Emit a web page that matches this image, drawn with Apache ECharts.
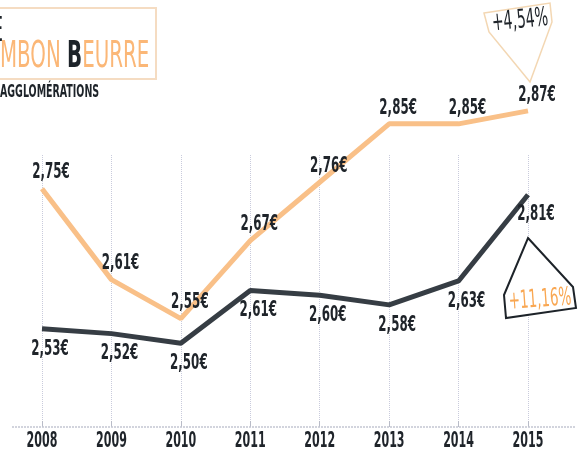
<!DOCTYPE html>
<html>
<head>
<meta charset="utf-8">
<script src="https://cdn.jsdelivr.net/npm/echarts@6/dist/echarts.min.js"></script>
<style>
  html, body { margin: 0; padding: 0; background: #fff; }
  #chart { width: 587px; height: 453px; }
</style>
</head>
<body>
<div id="chart"></div>
<script>
// données
const years = ['2008', '2009', '2010', '2011', '2012', '2013', '2014', '2015'];
const prixOrange = [2.75, 2.61, 2.55, 2.67, 2.76, 2.85, 2.85, 2.87];
const prixNoir = [2.53, 2.52, 2.50, 2.61, 2.60, 2.58, 2.63, 2.81];
const hausseOrange = '+4,54%';
const hausseNoir = '+11,16%';

const orange = '#f9c088';
const noir = '#363d44';
const encre = '#1f242a';
const cond = "'DejaVu Sans Condensed', 'DejaVu Sans', sans-serif";

function euro(v) {
  return v.toFixed(2).replace('.', ',') + '€';
}

// étiquettes de prix, tassées horizontalement comme la police d'origine
function labelSeries(data, axis, dx, dy) {
  return {
    type: 'custom',
    yAxisIndex: axis,
    clip: false,
    silent: true,
    z: 10,
    data: data.map((v, i) => [i, v]),
    renderItem: function (params, api) {
      let pt = api.coord([api.value(0), api.value(1)]);
      return {
        type: 'text',
        x: pt[0] + dx,
        y: pt[1] + dy,
        scaleX: 0.6,
        style: {
          text: euro(api.value(1)),
          fill: encre,
          font: 'bold 22px ' + cond,
          align: 'center',
          verticalAlign: 'middle'
        }
      };
    }
  };
}

let chart = echarts.init(document.getElementById('chart'));
let option = {
  backgroundColor: '#fff',
  animation: false,
  grid: { left: 42, right: 59, top: 155, bottom: 26 },
  xAxis: {
    type: 'category',
    boundaryGap: false,
    data: years,
    axisLine: { show: false },
    axisTick: { show: true, inside: true, length: 6, lineStyle: { color: '#b9bcc8' } },
    splitLine: { show: true, lineStyle: { color: '#c9cbdc', type: 'dotted', width: 1 } },
    axisLabel: { show: false }
  },
  // deux échelles cachées, comme sur l'original
  yAxis: [
    { type: 'value', show: false, min: 2.383, max: 2.802, splitLine: { show: false } },
    { type: 'value', show: false, min: 2.325, max: 2.893, splitLine: { show: false } }
  ],
  series: [
    {
      type: 'line',
      yAxisIndex: 0,
      data: prixOrange,
      clip: false,
      symbol: 'none',
      lineStyle: { color: orange, width: 5 },
      z: 3
    },
    {
      type: 'line',
      yAxisIndex: 1,
      data: prixNoir,
      clip: false,
      symbol: 'none',
      lineStyle: { color: noir, width: 5 },
      z: 4
    },
    labelSeries(prixOrange, 0, 9, -16),
    labelSeries(prixNoir, 1, 8, 20),
    // années sous l'axe
    {
      type: 'custom',
      clip: false,
      silent: true,
      data: years.map((y, i) => [i, 0]),
      renderItem: function (params, api) {
        let x = api.coord([api.value(0), 2.5])[0];
        return {
          type: 'text',
          x: x,
          y: params.coordSys.y + params.coordSys.height + 14,
          scaleX: 0.56,
          style: {
            text: years[api.value(0)],
            fill: encre,
            font: 'bold 22px ' + cond,
            align: 'center',
            verticalAlign: 'middle'
          }
        };
      }
    }
  ],
  graphic: [
    // ligne de base
    { type: 'line', shape: { x1: 12, y1: 427, x2: 575, y2: 427 },
      style: { stroke: '#c4c6d2', lineWidth: 1.5, lineDash: [2, 1] }, z: 1 },
    // cadre du titre
    { type: 'rect', shape: { x: -6, y: 8, width: 162, height: 71 },
      style: { fill: 'none', stroke: '#f5dcc2', lineWidth: 2 }, z: 5 },
    { type: 'text', x: 3, y: 15, scaleX: 0.6,
      style: { text: 'E', fill: '#1d2329', font: '34px ' + cond, align: 'right' }, z: 6 },
    { type: 'text', x: 0, y: 38, scaleX: 0.58,
      style: {
        text: '{o|MBON }{n|B}{o|EURRE}',
        font: '38px ' + cond,
        rich: {
          o: { fill: '#fbb777', font: '38px ' + cond },
          n: { fill: '#1d2329', font: 'bold 38px ' + cond }
        }
      }, z: 6 },
    { type: 'text', x: 0, y: 84, scaleX: 0.62,
      style: { text: 'AGGLOMÉRATIONS', fill: '#1d2329', font: 'bold 17px ' + cond }, z: 6 },
    // badge orange
    { type: 'polygon', shape: { points: [[484, 13], [550, 3], [552, 22], [530, 82], [489, 32]] },
      style: { fill: '#fff', stroke: '#f3d7b3', lineWidth: 1.5 }, z: 5 },
    { type: 'text', x: 520, y: 21, rotation: 0.1, scaleX: 0.6,
      style: { text: hausseOrange, fill: encre, font: '26px ' + cond, align: 'center', verticalAlign: 'middle' }, z: 6 },
    // badge noir
    { type: 'polygon', shape: { points: [[528, 238], [573, 287], [576, 308], [506, 318], [504, 295]] },
      style: { fill: '#fff', stroke: '#1d2329', lineWidth: 2 }, z: 5 },
    { type: 'text', x: 540, y: 300, rotation: 0.07, scaleX: 0.6,
      style: { text: hausseNoir, fill: '#f9a752', font: '25px ' + cond, align: 'center', verticalAlign: 'middle' }, z: 6 }
  ]
};
chart.setOption(option);
</script>
</body>
</html>
